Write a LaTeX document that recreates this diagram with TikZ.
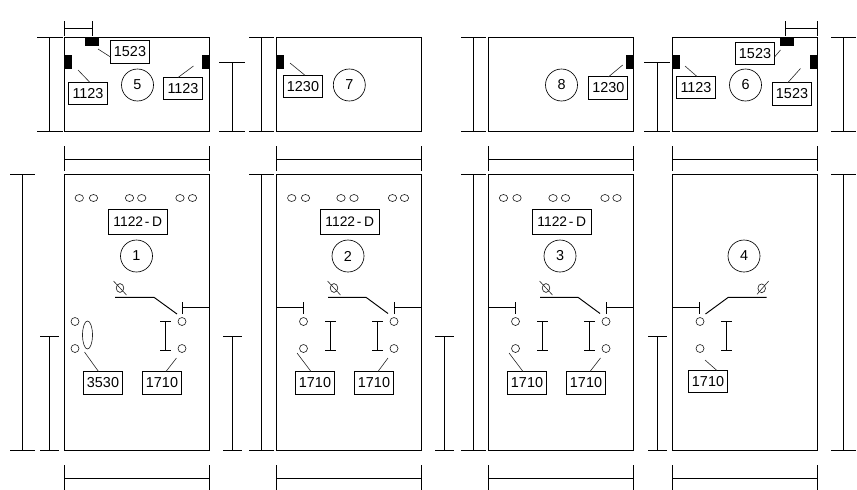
\documentclass[tikz,border=0pt]{standalone}
\usepackage{fontspec}
\setmainfont{Liberation Sans}
\tikzset{
  panel/.style={draw=black,line width=0.95pt,fill=none},
  dimline/.style={draw=black,line width=0.95pt},
  lead/.style={draw=black!85,line width=0.6pt},
  lbl/.style={draw=black,line width=0.85pt,fill=white,minimum width=39pt,minimum height=22.5pt,inner sep=0pt,font=\fontsize{14.4}{15}\selectfont},
  widelbl/.style={lbl,minimum width=59.5pt,minimum height=24.5pt,font=\fontsize{13.8}{15}\selectfont},
  num/.style={draw=black,line width=0.65pt,circle,minimum size=32pt,inner sep=0pt,font=\fontsize{14.4}{15}\selectfont},
  hole/.style={draw=black!85,line width=0.65pt},
  block/.style={fill=black,draw=none},
}
% horizontal dimension: x1 x2 y ytop ybottom
\newcommand{\hdimn}[5]{\draw[dimline] (#1,#4) -- (#1,#5) (#2,#4) -- (#2,#5) (#1,#3) -- (#2,#3);}
% vertical dimension: x ytop ybottom xleft xright
\newcommand{\vdimn}[5]{\draw[dimline] (#4,#2) -- (#5,#2) (#4,#3) -- (#5,#3) (#1,#2) -- (#1,#3);}
% I-beam
\newcommand{\ibeam}[1]{\draw[dimline] (#1-5.5,321) -- (#1+5.5,321) (#1-5.5,350) -- (#1+5.5,350) (#1,321) -- (#1,350);}
% pair of round holes on top row
\newcommand{\toppair}[2]{\draw[hole] (#1,198) ellipse (4.2 and 3.5) (#2,198) ellipse (4.2 and 3.5);}
% pair of contact holes
\newcommand{\contacts}[1]{\draw[hole] (#1,321.5) circle (4) (#1,348.5) circle (4);}
% crossed handle
\newcommand{\handle}[2]{\draw[hole] (#1,#2) ellipse (3.8 and 4.4); \draw[lead] (#1-6.5,#2-7) -- (#1+6.5,#2+7);}
\newcommand{\handlerev}[2]{\draw[hole] (#1,#2) ellipse (3.8 and 4.4); \draw[lead] (#1-4.7,#2+6) -- (#1+7,#2-7.3);}
\newcommand{\headtext}{1122\hspace{0.12em}-\hspace{0.2em}D}
\begin{document}
\begin{tikzpicture}[x=1pt,y=-1pt]
\useasboundingbox (0,0) rectangle (857,490);
% panels
\foreach \x in {64.5,276.5,488.5,672.5}{
  \draw[panel] (\x,37.5) rectangle (\x+145,131);
  \draw[panel] (\x,174) rectangle (\x+145,450);
  \hdimn{\x}{\x+145}{159}{146}{171}
  \hdimn{\x}{\x+145}{478}{465}{490}
}
% top dimensions
\hdimn{64.5}{92.5}{28.5}{21}{36}
\hdimn{785}{817.5}{28.5}{21}{36}
% vertical dimensions
\vdimn{49.5}{37.5}{131}{37}{62.5}
\vdimn{22.5}{174}{450}{10}{35}
\vdimn{49.5}{336}{450}{40}{59}
\vdimn{232.5}{62}{131}{219}{245}
\vdimn{232.5}{336}{450}{223}{242}
\vdimn{261.5}{37.5}{131}{249}{274}
\vdimn{261.5}{174}{450}{249}{274}
\vdimn{444.5}{336}{450}{435}{454}
\vdimn{473.5}{37.5}{131}{461}{486}
\vdimn{473.5}{174}{450}{461}{486}
\vdimn{657}{62}{131}{644}{670}
\vdimn{657}{336}{450}{648}{667}
\vdimn{843.5}{37.5}{131}{831}{856}
\vdimn{843.5}{174}{450}{831}{856}
% black blocks
\fill[block] (85,37.5) rectangle (99,46);
\fill[block] (64.5,55) rectangle (72,69);
\fill[block] (202,55) rectangle (209.5,69);
\fill[block] (780,37.5) rectangle (794,46);
\fill[block] (672.5,55) rectangle (680,69);
\fill[block] (810,55) rectangle (817.5,69);
\fill[block] (276.5,55) rectangle (284,69);
\fill[block] (626,55) rectangle (633.5,69);
% top-row labels
\node[lbl] (a1) at (130,52) {1523};
\node[lbl] (a2) at (88,93.5) {1123};
\node[lbl] (a3) at (183,88.5) {1123};
\node[num] (n5) at (137.5,85) {5};
\node[lbl] (b1) at (303,86.3) {1230};
\node[num] (n7) at (349.3,85) {7};
\node[num] (n8) at (561.5,85) {8};
\node[lbl] (c1) at (608.3,88) {1230};
\node[lbl] (d1) at (755,53.5) {1523};
\node[lbl] (d2) at (792,94) {1523};
\node[lbl] (d3) at (696,87.5) {1123};
\node[num] (n6) at (745.5,85) {6};
\coordinate (pa1) at (98,49); \draw[lead] (pa1) -- ([shift={(-19.5,5)}]a1.center);
\coordinate (pa2) at (78,70); \draw[lead] (pa2) -- ([shift={(2,-11)}]a2.center);
\coordinate (pa3) at (193.5,66); \draw[lead] (pa3) -- ([shift={(-5,-11)}]a3.center);
\coordinate (pb1) at (290,63); \draw[lead] (pb1) -- ([shift={(2,-11)}]b1.center);
\coordinate (pc1) at (622.7,65); \draw[lead] (pc1) -- ([shift={(0,-11)}]c1.center);
\coordinate (pd1) at (780.5,50); \draw[lead] (pd1) -- ([shift={(19.5,3.5)}]d1.center);
\coordinate (pd2) at (800.5,68.5); \draw[lead] (pd2) -- ([shift={(-4.5,-11)}]d2.center);
\coordinate (pd3) at (685,66); \draw[lead] (pd3) -- ([shift={(1,-11)}]d3.center);
% bottom: header pieces
\toppair{79.3}{93.5}\toppair{129.5}{141.7}\toppair{180}{192.5}
\toppair{291.7}{305.5}\toppair{341}{354}\toppair{392.5}{404.5}
\toppair{503.5}{517}\toppair{553}{565.5}\toppair{605}{617}
\node[widelbl] (h1) at (137.8,221.7) {\headtext};
\node[widelbl] (h2) at (349.8,221.7) {\headtext};
\node[widelbl] (h3) at (561.8,221.7) {\headtext};
\node[num] (n1) at (136.5,256) {1};
\node[num] (n2) at (348,256) {2};
\node[num] (n3) at (560,256) {3};
\node[num] (n4) at (744,256) {4};
% panel 1
\handle{120}{288}
\draw[dimline] (115,297.3) -- (154,297.3) -- (177,314);
\draw[dimline] (182.5,302) -- (182.5,313.5) (182.5,307) -- (209.5,307);
\contacts{182}\contacts{75}
\ibeam{165.5}
\draw[hole] (87.5,335) ellipse (5 and 14);
\node[lbl] (e1) at (103,383) {3530};
\node[lbl] (e2) at (162,383) {1710};
\coordinate (pe1) at (84.5,352); \draw[lead] (pe1) -- ([shift={(-4.5,-11.5)}]e1.center);
\coordinate (pe2) at (176.5,358); \draw[lead] (pe2) -- ([shift={(4,-11.5)}]e2.center);
% panel 2
\handle{334}{288}
\draw[dimline] (328,297.3) -- (366,297.3) -- (388,313.5);
\draw[dimline] (303.5,302) -- (303.5,313.5) (276.5,307) -- (303.5,307);
\draw[dimline] (394.5,302) -- (394.5,313.5) (394.5,307) -- (421.5,307);
\contacts{303.5}\contacts{394}
\ibeam{330.5}\ibeam{377.5}
\node[lbl] (f1) at (315,383) {1710};
\node[lbl] (f2) at (374,383) {1710};
\coordinate (pf1) at (297,353); \draw[lead] (pf1) -- ([shift={(-4,-11.5)}]f1.center);
\coordinate (pf2) at (388,358); \draw[lead] (pf2) -- ([shift={(4,-11.5)}]f2.center);
% panel 3
\handle{546}{288}
\draw[dimline] (540,297.3) -- (578,297.3) -- (600,313.5);
\draw[dimline] (515.5,302) -- (515.5,313.5) (488.5,307) -- (515.5,307);
\draw[dimline] (606.5,302) -- (606.5,313.5) (606.5,307) -- (633.5,307);
\contacts{515.5}\contacts{606}
\ibeam{542.5}\ibeam{589.5}
\node[lbl] (g1) at (527,383) {1710};
\node[lbl] (g2) at (586,383) {1710};
\coordinate (pg1) at (509,353); \draw[lead] (pg1) -- ([shift={(-4,-11.5)}]g1.center);
\coordinate (pg2) at (600.5,358); \draw[lead] (pg2) -- ([shift={(4,-11.5)}]g2.center);
% panel 4
\handlerev{761.7}{288.3}
\draw[dimline] (705.5,314) -- (728.3,297.3) -- (766.7,297.3);
\draw[dimline] (699.5,302) -- (699.5,313.5) (672.5,307) -- (699.5,307);
\contacts{700}
\ibeam{726.5}
\node[lbl] (k1) at (708,381.5) {1710};
\coordinate (pk1) at (705,360); \draw[lead] (pk1) -- ([shift={(8.7,-11.2)}]k1.center);
\end{tikzpicture}
\end{document}
